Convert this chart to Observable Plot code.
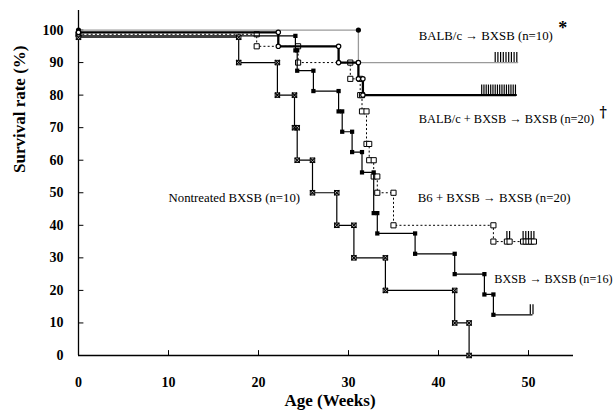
<!DOCTYPE html>
<html>
<head>
<meta charset="utf-8">
<script src="https://cdn.jsdelivr.net/npm/d3@7"></script>
<script src="https://cdn.jsdelivr.net/npm/@observablehq/plot@0.6"></script>
<style>
  html, body { margin: 0; padding: 0; background: white; }
  #chart svg { display: block; }
</style>
</head>
<body>
<div id="chart"></div>
<script>
// ---- Data ----
const xTicks = [0, 10, 20, 30, 40, 50];
const yTicks = [0, 10, 20, 30, 40, 50, 60, 70, 80, 90, 100];

// BALB/c -> BXSB (n=10)
const grayWeeks = [0, 31.1, 48.8];
const graySurv  = [100, 90, 90];
const grayCens  = [46.3, 46.6, 46.9, 47.2, 47.5, 47.8, 48.1, 48.4, 48.7];

// BALB/c + BXSB -> BXSB (n=20)
const thickWeeks = [0, 22.2, 28.9, 31.1, 31.6, 48.6];
const thickSurv  = [99.3, 95, 90, 85, 80, 80];
const thickCens  = [44.8, 45.05, 45.3, 45.55, 45.8, 46.05, 46.3, 46.55, 46.8, 47.05, 47.3, 47.55, 47.8, 48.05, 48.3, 48.55];

// B6 + BXSB -> BXSB (n=20)
const dotWeeks = [0, 19.8, 24.4, 30.2, 31.3, 31.5, 32.0, 32.3, 32.8, 33.2, 35.0, 46.1, 50.8];
const dotSurv  = [98.7, 95, 90, 85, 80, 75, 65, 60, 55, 50, 40, 35, 35];
const dotCens  = [47.6, 47.9, 49.4, 49.7, 50.0, 50.3, 50.6];

// BXSB -> BXSB (n=16)
const bxWeeks = [0, 24.1, 24.3, 26.1, 28.9, 29.3, 30.4, 31.5, 32.8, 33.2, 37.4, 41.8, 45.1, 46.1, 50.4];
const bxSurv  = [98.2, 93.75, 87.5, 81.25, 75, 68.75, 62.5, 56.25, 43.75, 37.5, 31.25, 25, 18.75, 12.5, 12.5];
const bxCens  = [50.2, 50.5];

// Nontreated BXSB (n=10)
const ntWeeks = [0, 17.8, 22.1, 24.0, 24.3, 26.0, 28.7, 30.6, 34.1, 41.8, 43.4];
const ntSurv  = [97.8, 90, 80, 70, 60, 50, 40, 30, 20, 10, 0];

// ---- helpers building tables from the arrays ----
const pts = (w, s) => w.map((x, i) => ({x, y: s[i]}));
function corners(w, s) {
  const out = [{x: w[0], y: s[0]}];
  for (let i = 1; i < w.length; i++) {
    if (s[i] !== s[i - 1]) { out.push({x: w[i], y: s[i - 1]}); out.push({x: w[i], y: s[i]}); }
  }
  return out;
}
const cens = (c, w, s) => c.map(x => ({x, y: s[s.length - 1]}));
const TICKH = 3.1;

const serif = "Liberation Serif, Times New Roman, serif";

const chart = Plot.plot({
  width: 615,
  height: 416,
  marginLeft: 78,
  marginRight: 42,
  marginTop: 10,
  marginBottom: 61,
  x: {domain: [0, 55]},
  y: {domain: [0, 106]},
  style: {fontFamily: serif, fontSize: "13px", background: "white", color: "black", overflow: "visible"},
  marks: [
    // axes frame + inward ticks
    Plot.ruleX([0], {y1: 0, y2: 106, stroke: "black", strokeWidth: 1.3}),
    Plot.ruleY([0], {x1: 0, x2: 55, stroke: "black", strokeWidth: 1.3}),
    Plot.ruleX(xTicks.filter(d => d > 0), {y1: 0, y2: 1.5, stroke: "black"}),
    Plot.ruleY(yTicks.filter(d => d > 0), {x1: 0, x2: 0.6, stroke: "black"}),
    Plot.axisX({ticks: xTicks, tickSize: 0, tickPadding: 22, fontWeight: "bold", fontSize: 14, label: null}),
    Plot.axisY({ticks: yTicks, tickSize: 0, tickPadding: 15, fontWeight: "bold", fontSize: 14, label: null}),
    Plot.text(["Age (Weeks)"], {frameAnchor: "bottom", text: d => d, dx: 4, dy: 50, fontSize: 17, fontWeight: "bold", fill: "black"}),
    Plot.text(["Survival rate (%)"], {frameAnchor: "left", text: d => d, dx: -59, dy: -10, rotate: -90, fontSize: 17, fontWeight: "bold", fill: "black"}),

    // BALB/c -> BXSB (gray)
    Plot.line(pts(grayWeeks, graySurv), {x: "x", y: "y", curve: "step-after", stroke: "#9a9a9a", strokeWidth: 1.3}),
    Plot.ruleX(cens(grayCens, grayWeeks, graySurv), {x: "x", y1: "y", y2: d => d.y + TICKH, stroke: "black", strokeWidth: 1.2}),
    Plot.dot(corners(grayWeeks, graySurv), {x: "x", y: "y", r: 2.6, fill: "black", stroke: "none"}),

    // B6 + BXSB -> BXSB (dotted)
    Plot.line(pts(dotWeeks, dotSurv), {x: "x", y: "y", curve: "step-after", stroke: "black", strokeWidth: 1, strokeDasharray: "1.2,3"}),
    Plot.ruleX(cens(dotCens, dotWeeks, dotSurv), {x: "x", y1: "y", y2: d => d.y + TICKH, stroke: "black", strokeWidth: 1.2}),
    Plot.dot(corners(dotWeeks, dotSurv).concat(cens(dotCens, dotWeeks, dotSurv)), {x: "x", y: "y", symbol: "square", r: 2.9, fill: "white", stroke: "black", strokeWidth: 1}),

    // BXSB -> BXSB (filled squares)
    Plot.line(pts(bxWeeks, bxSurv), {x: "x", y: "y", curve: "step-after", stroke: "black", strokeWidth: 1.2}),
    Plot.ruleX(cens(bxCens, bxWeeks, bxSurv), {x: "x", y1: "y", y2: d => d.y + TICKH, stroke: "black", strokeWidth: 1.2}),
    Plot.dot(corners(bxWeeks, bxSurv), {x: "x", y: "y", symbol: "square", r: 2.4, fill: "black", stroke: "none"}),

    // Nontreated BXSB (crossed squares)
    Plot.line(pts(ntWeeks, ntSurv), {x: "x", y: "y", curve: "step-after", stroke: "black", strokeWidth: 1.2}),
    Plot.dot(corners(ntWeeks, ntSurv), {x: "x", y: "y", symbol: "square", r: 2.5, fill: "white", stroke: "black", strokeWidth: 1}),
    Plot.dot(corners(ntWeeks, ntSurv), {x: "x", y: "y", symbol: "times", r: 2.5, stroke: "black", strokeWidth: 1.1}),

    // BALB/c + BXSB -> BXSB (thick)
    Plot.line(pts(thickWeeks, thickSurv), {x: "x", y: "y", curve: "step-after", stroke: "black", strokeWidth: 2.3}),
    Plot.ruleX(cens(thickCens, thickWeeks, thickSurv), {x: "x", y1: "y", y2: d => d.y + TICKH, stroke: "black", strokeWidth: 1.2}),
    Plot.dot(corners(thickWeeks, thickSurv), {x: "x", y: "y", r: 2.2, fill: "white", stroke: "black", strokeWidth: 1.2}),

    // annotations
    Plot.text(["BALB/c \u2192 BXSB (n=10)"], {x: 37.8, y: 98.2, text: d => d, textAnchor: "start", fontSize: 12.8, fill: "black"}),
    Plot.text(["*"], {x: 53.3, y: 100.6, text: d => d, textAnchor: "start", fontSize: 18, fontWeight: "bold", fill: "black"}),
    Plot.text(["BALB/c + BXSB \u2192 BXSB (n=20)"], {x: 37.8, y: 72.7, text: d => d, textAnchor: "start", fontSize: 12.4, fill: "black"}),
    Plot.text(["\u2020"], {x: 57.9, y: 74.6, text: d => d, textAnchor: "start", fontSize: 14, fontWeight: "bold", fill: "black", fontFamily: "DejaVu Serif, Liberation Serif, serif"}),
    Plot.text(["B6 + BXSB \u2192 BXSB (n=20)"], {x: 37.7, y: 48.5, text: d => d, textAnchor: "start", fontSize: 12.8, fill: "black"}),
    Plot.text(["BXSB \u2192 BXSB (n=16)"], {x: 46.2, y: 23.6, text: d => d, textAnchor: "start", fontSize: 12.2, fill: "black"}),
    Plot.text(["Nontreated BXSB (n=10)"], {x: 10.0, y: 48.5, text: d => d, textAnchor: "start", fontSize: 12.8, fill: "black"})
  ]
});
document.getElementById("chart").appendChild(chart);
</script>
</body>
</html>
